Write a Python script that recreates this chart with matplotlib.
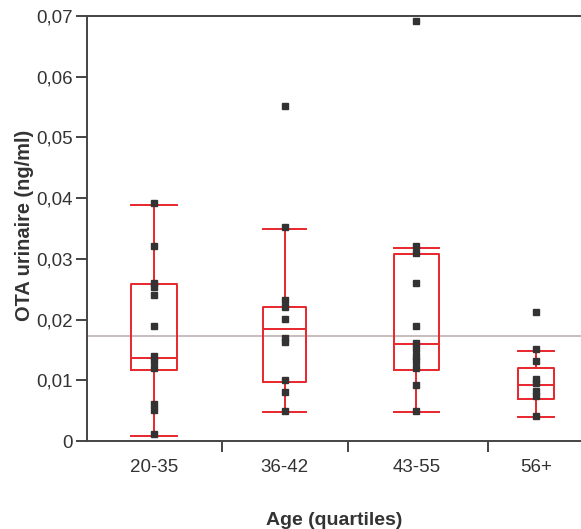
import matplotlib
matplotlib.use("Agg")
import matplotlib.pyplot as plt
from matplotlib.ticker import FixedLocator, FuncFormatter

plt.rcParams['font.family'] = ['Liberation Sans', 'DejaVu Sans']

categories = ["20-35", "36-42", "43-55", "56+"]
points = [
    [0.0392, 0.0322, 0.0261, 0.0253, 0.0240, 0.0190, 0.0140, 0.0132, 0.0120, 0.0061, 0.0051, 0.0011],
    [0.0551, 0.0352, 0.0232, 0.0221, 0.0201, 0.0169, 0.0163, 0.0100, 0.0081, 0.0050],
    [0.0691, 0.0321, 0.0310, 0.0260, 0.0190, 0.0162, 0.0151, 0.0140, 0.0132, 0.0120, 0.0092, 0.0050],
    [0.0212, 0.0151, 0.0131, 0.0102, 0.0096, 0.0082, 0.0074, 0.0042],
]
q1 = [0.0117, 0.0097, 0.0117, 0.0070]
median = [0.0137, 0.0184, 0.0159, 0.0092]
q3 = [0.0258, 0.0221, 0.0308, 0.0120]
whisker_low = [0.0008, 0.0048, 0.0048, 0.0040]
whisker_high = [0.0389, 0.0350, 0.0318, 0.0148]
reference_level = 0.0173

positions = [0.0, 1.02, 2.05, 2.99]
widths = [0.36, 0.34, 0.35, 0.28]
sep_ticks = [0.53, 1.52, 2.61]

red = "#e8262b"
axc = "#444444"

fig = plt.figure(figsize=(5.81, 5.29), dpi=100)
ax = fig.add_axes([87/581, 88/529, 1 - 87/581, (441-16)/529])

stats = []
for i in range(len(categories)):
    stats.append(dict(med=median[i], q1=q1[i], q3=q3[i],
                      whislo=whisker_low[i], whishi=whisker_high[i], fliers=[]))

for i in range(len(categories)):
    ax.bxp([stats[i]], positions=[positions[i]], widths=[widths[i]],
           showfliers=False, capwidths=[widths[i]],
           boxprops=dict(color=red, linewidth=1.4),
           medianprops=dict(color=red, linewidth=1.4),
           whiskerprops=dict(color=red, linewidth=1.4),
           capprops=dict(color=red, linewidth=1.4),
           manage_ticks=False, zorder=2)

ax.axhline(reference_level, color="#c4b8b6", linewidth=1.3, zorder=1)

for i, pts in enumerate(points):
    ax.plot([positions[i]] * len(pts), pts, linestyle="none", marker="s",
            markersize=4.3, color="#333333", zorder=3)

ax.set_xlim(-0.527, 3.34)
ax.set_ylim(0, 0.07)

ax.spines['right'].set_visible(False)
for s in ['left', 'bottom', 'top']:
    ax.spines[s].set_color(axc)
    ax.spines[s].set_linewidth(1.4)

ax.yaxis.set_major_locator(FixedLocator([0, 0.01, 0.02, 0.03, 0.04, 0.05, 0.06, 0.07]))
ax.yaxis.set_major_formatter(FuncFormatter(lambda v, p: "0" if abs(v) < 1e-9 else f"{v:.2f}".replace(".", ",")))
ax.tick_params(axis='y', length=8, width=1.4, color=axc, labelsize=13.5, labelcolor="#333333", pad=2)

ax.set_xticks(sep_ticks)
ax.set_xticklabels([])
ax.set_xticks(positions, minor=True)
ax.set_xticklabels(categories, minor=True)
ax.tick_params(axis='x', which='major', length=8, width=1.4, color=axc)
ax.tick_params(axis='x', which='minor', length=0, labelsize=13.5, labelcolor="#333333", pad=13)

ax.set_xlabel("Age (quartiles)", fontsize=14, fontweight="bold", color="#333333", labelpad=26)
ax.set_ylabel("OTA urinaire (ng/ml)", fontsize=14.4, fontweight="bold", color="#333333")
ax.yaxis.set_label_coords(-0.108, 0.507)

fig.savefig("out.png", dpi=100)
